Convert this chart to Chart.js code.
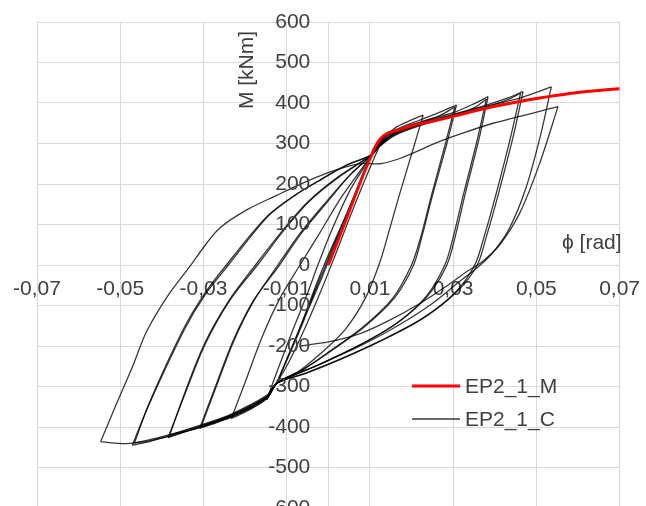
<!DOCTYPE html>
<html>
<head>
<meta charset="utf-8">
<script src="https://cdn.jsdelivr.net/npm/chart.js@4"></script>
<style>
  html, body { margin: 0; padding: 0; background: #fff; overflow: hidden; }
  #wrap { width: 652px; height: 530px; position: relative; }
</style>
</head>
<body>
<div id="wrap"><canvas id="chart"></canvas></div>
<script>
const xTicks = [-0.07, -0.05, -0.03, -0.01, 0.01, 0.03, 0.05, 0.07];
const yTicks = [-600, -500, -400, -300, -200, -100, 0, 100, 200, 300, 400, 500, 600];

// monotonic curve EP2_1_M  [phi, M]
const monotonic = [
  [0, 0], [0.004, 105], [0.008, 213], [0.0100, 262], [0.0112, 290], [0.0124, 310],
  [0.014, 324], [0.017, 334], [0.02, 344], [0.025, 355], [0.03, 367], [0.035, 380],
  [0.04, 392], [0.045, 402], [0.05, 411], [0.055, 419], [0.06, 426], [0.065, 431], [0.07, 435]
];

// cyclic curve EP2_1_C, one branch per array  [phi, M]
const elastic = [
  [0, 0], [0.005, 135], [0.0104, 272], [0.005, 140], [-0.001, 0], [-0.006, -140], [-0.0124, -292],
  [-0.0065, -150], [-0.0015, -30], [0.004, 110], [0.0104, 272], [0.0045, 125], [-0.002, -25],
  [-0.007, -160], [-0.0124, -292]
];
const up0 = [[-0.0124, -292], [-0.008, -185], [-0.003, -60], [0.002, 65], [0.007, 190], [0.0104, 272], [0.0135, 322]];
const down1 = [[0.0135, 322], [0.0115, 275], [0.008, 190], [0.0045, 100], [0.0015, 20], [-0.002, -70], [-0.006, -165], [-0.0095, -240], [-0.0124, -292], [-0.0148, -333]];
const up1 = [[-0.0148, -333], [-0.0122, -260], [-0.0085, -160], [-0.005, -70], [-0.0025, 0], [0.001, 90], [0.005, 180], [0.0085, 240], [0.0104, 272], [0.0125, 305], [0.016, 338], [0.0195, 356], [0.0228, 370]];
const down2 = [[0.0228, 370], [0.0205, 290], [0.017, 170], [0.0145, 80], [0.0125, 10], [0.009, -80], [0.004, -160], [-0.002, -220], [-0.007, -262], [-0.0124, -292], [-0.0148, -330], [-0.019, -358], [-0.0233, -379]];
const up2 = [[-0.0233, -379], [-0.02, -290], [-0.016, -180], [-0.0115, -80], [-0.0068, 0], [-0.002, 80], [0.003, 165], [0.0075, 230], [0.0104, 272], [0.0125, 303], [0.016, 333], [0.022, 358], [0.027, 378], [0.0308, 395]];
const down3 = [[0.0308, 395], [0.0285, 300], [0.025, 170], [0.0225, 70], [0.0205, 0], [0.016, -80], [0.009, -150], [0.001, -210], [-0.006, -258], [-0.0124, -292], [-0.0148, -328], [-0.019, -354], [-0.0233, -374], [-0.027, -390], [-0.0309, -403]];
const up3r = [[-0.0309, -403], [-0.0273, -305], [-0.0228, -185], [-0.0178, -85], [-0.0117, 0], [-0.0065, 78], [-0.0005, 152], [0.0052, 222], [0.0104, 272], [0.0125, 298], [0.016, 327], [0.022, 350], [0.027, 370], [0.0304, 390]];
const down3r = [[0.0304, 390], [0.0281, 298], [0.0247, 168], [0.0222, 68], [0.02, 0], [0.0155, -82], [0.0085, -152], [0.0005, -212], [-0.0062, -259], [-0.0124, -292], [-0.0148, -330], [-0.019, -356], [-0.0233, -376], [-0.027, -388], [-0.0305, -398]];
const up3 = [[-0.0305, -398], [-0.0271, -305], [-0.0228, -190], [-0.018, -90], [-0.0121, 0], [-0.007, 75], [-0.001, 150], [0.005, 220], [0.0104, 272], [0.0125, 300], [0.016, 330], [0.022, 353], [0.03, 376], [0.035, 398], [0.0384, 416]];
const down4 = [[0.0384, 416], [0.0362, 310], [0.033, 180], [0.0305, 70], [0.0285, 0], [0.024, -75], [0.017, -140], [0.008, -195], [-0.002, -245], [-0.0124, -292], [-0.0148, -326], [-0.019, -352], [-0.0233, -372], [-0.0309, -400], [-0.035, -414], [-0.0385, -426]];
const up4r = [[-0.0385, -426], [-0.0348, -328], [-0.0297, -198], [-0.0237, -88], [-0.017, 0], [-0.0105, 88], [-0.0045, 158], [0.0025, 217], [0.0104, 272], [0.0125, 296], [0.016, 324], [0.022, 348], [0.03, 370], [0.035, 388], [0.038, 410]];
const down4r = [[0.038, 410], [0.0357, 305], [0.0325, 175], [0.03, 68], [0.028, 0], [0.0235, -78], [0.0165, -143], [0.0075, -198], [-0.0025, -247], [-0.0124, -292], [-0.0148, -328], [-0.0233, -374], [-0.0309, -402], [-0.035, -412], [-0.0381, -420]];
const up4 = [[-0.0381, -420], [-0.035, -330], [-0.03, -200], [-0.024, -90], [-0.0175, 0], [-0.011, 85], [-0.005, 155], [0.002, 215], [0.0104, 272], [0.0125, 298], [0.016, 326], [0.022, 350], [0.03, 372], [0.038, 395], [0.043, 412], [0.0468, 428]];
const down5 = [[0.0468, 428], [0.0445, 320], [0.041, 180], [0.038, 70], [0.0358, 0], [0.031, -65], [0.023, -130], [0.013, -185], [0.003, -232], [-0.005, -265], [-0.0124, -292], [-0.0148, -324], [-0.0233, -370], [-0.0309, -398], [-0.0385, -422], [-0.043, -436], [-0.0471, -445]];
const up5r = [[-0.0471, -445], [-0.0428, -338], [-0.0345, -158], [-0.0295, -72], [-0.024, 0], [-0.0145, 120], [-0.008, 172], [-0.0015, 212], [0.0045, 247], [0.0104, 272], [0.0125, 294], [0.016, 320], [0.022, 344], [0.03, 368], [0.038, 390], [0.043, 408], [0.0462, 424]];
const down5r = [[0.0462, 424], [0.0438, 315], [0.0404, 178], [0.0374, 68], [0.0352, 0], [0.0305, -68], [0.0225, -133], [0.0125, -188], [0.0025, -235], [-0.0052, -267], [-0.0124, -292], [-0.0148, -326], [-0.0233, -372], [-0.0309, -400], [-0.0385, -424], [-0.043, -434], [-0.0466, -440]];
const up5 = [[-0.0466, -440], [-0.043, -340], [-0.0349, -160], [-0.03, -75], [-0.0245, 0], [-0.0148, 119], [-0.0085, 169], [-0.002, 210], [0.004, 245], [0.0104, 272], [0.0125, 296], [0.016, 322], [0.022, 346], [0.03, 370], [0.038, 392], [0.046, 412], [0.0505, 428], [0.0536, 440]];
const down6 = [[0.0536, 440], [0.051, 320], [0.0475, 190], [0.0435, 90], [0.0395, 30], [0.036, -5], [0.031, -45], [0.025, -95], [0.017, -148], [0.008, -198], [-0.002, -245], [-0.0124, -292], [-0.0148, -322], [-0.0233, -368], [-0.0309, -396], [-0.0385, -420], [-0.0471, -440], [-0.051, -440], [-0.0547, -436]];
const up6 = [[-0.0547, -436], [-0.051, -345], [-0.047, -250], [-0.0437, -165], [-0.0385, -75], [-0.0333, -4], [-0.0295, 50], [-0.026, 92], [-0.0196, 136], [-0.0124, 172], [-0.006, 203], [0.0, 228], [0.0045, 243], [0.0084, 251], [0.0124, 250], [0.0172, 263], [0.0268, 305], [0.0316, 323], [0.0396, 350], [0.0552, 391]];
const down7 = [[0.0552, 391], [0.0508, 251], [0.046, 128], [0.0412, 50], [0.037, 8], [0.0335, -15], [0.028, -55], [0.022, -95], [0.015, -135], [0.008, -168], [0.0, -190], [-0.007, -200]];

const cyclicBranches = [
  elastic, up0, down1, up1, down2, up2, down3, up3r, down3r, up3, down4, up4r, down4r, up4,
  down5, up5r, down5r, up5, down6, up6, down7
];

const FONT = "'Liberation Sans', Arial, sans-serif";
const TEXT = '#404040';
const GRID = '#d9d9d9';
const CYCLIC = 'rgba(0,0,0,0.78)';
const toPoints = arr => arr.map(([x, y]) => ({ x, y }));

const datasets = [{
  label: 'EP2_1_M',
  data: toPoints(monotonic),
  borderColor: '#ff0000',
  borderWidth: 3,
  tension: 0.3,
}];
cyclicBranches.forEach(branch => {
  datasets.push({
    label: 'EP2_1_C',
    data: toPoints(branch),
    borderColor: CYCLIC,
    borderWidth: 1.3,
    tension: 0.3,
  });
});

// y tick labels, axis titles and legend, all inside the plot
const overlay = {
  id: 'overlay',
  afterDraw(chart) {
    const ctx = chart.ctx;
    const xs = chart.scales.x, ys = chart.scales.y;
    ctx.save();
    ctx.fillStyle = TEXT;
    ctx.font = `21px ${FONT}`;
    ctx.textBaseline = 'middle';

    // value labels of the vertical axis, left of the axis line at phi = 0
    ctx.textAlign = 'right';
    const axisX = xs.getPixelForValue(0);
    yTicks.forEach(v => ctx.fillText(String(v), axisX - 18, ys.getPixelForValue(v)));

    ctx.save();
    ctx.translate(247, 70);
    ctx.rotate(-Math.PI / 2);
    ctx.textAlign = 'center';
    ctx.fillText('M [kNm]', 0, 0);
    ctx.restore();

    ctx.textAlign = 'left';
    ctx.fillText('\u03d5 [rad]', 562, 243);

    const items = [
      { text: datasets[0].label, color: '#ff0000', width: 3, y: 386 },
      { text: datasets[1].label, color: CYCLIC, width: 1.3, y: 419 },
    ];
    items.forEach(it => {
      ctx.strokeStyle = it.color;
      ctx.lineWidth = it.width;
      ctx.beginPath();
      ctx.moveTo(412, it.y);
      ctx.lineTo(460, it.y);
      ctx.stroke();
      ctx.fillText(it.text, 465, it.y + 1);
    });
    ctx.restore();
  }
};

new Chart(document.getElementById('chart'), {
  type: 'scatter',
  data: { datasets },
  options: {
    responsive: true,
    maintainAspectRatio: false,
    animation: false,
    elements: { point: { radius: 0 }, line: { fill: false } },
    datasets: { scatter: { showLine: true } },
    layout: { padding: { left: 37, right: 26, top: 22, bottom: 22 } },
    plugins: { legend: { display: false }, tooltip: { enabled: false } },
    scales: {
      x: {
        type: 'linear',
        min: -0.07,
        max: 0.07,
        position: { y: 0 },
        afterBuildTicks: axis => { axis.ticks = xTicks.map(v => ({ value: v })); },
        grid: { color: GRID, drawTicks: false },
        border: { color: GRID },
        ticks: {
          padding: 12,
          color: TEXT,
          autoSkip: false,
          maxRotation: 0,
          font: { family: FONT, size: 21 },
          callback: v => v.toFixed(2).replace('.', ','),
        },
      },
      y: {
        type: 'linear',
        min: -600,
        max: 600,
        position: { x: 0 },
        afterBuildTicks: axis => { axis.ticks = yTicks.map(v => ({ value: v })); },
        grid: { color: GRID, drawTicks: false },
        border: { color: GRID },
        ticks: { display: false },
      },
    },
  },
  plugins: [overlay],
});
</script>
</body>
</html>
